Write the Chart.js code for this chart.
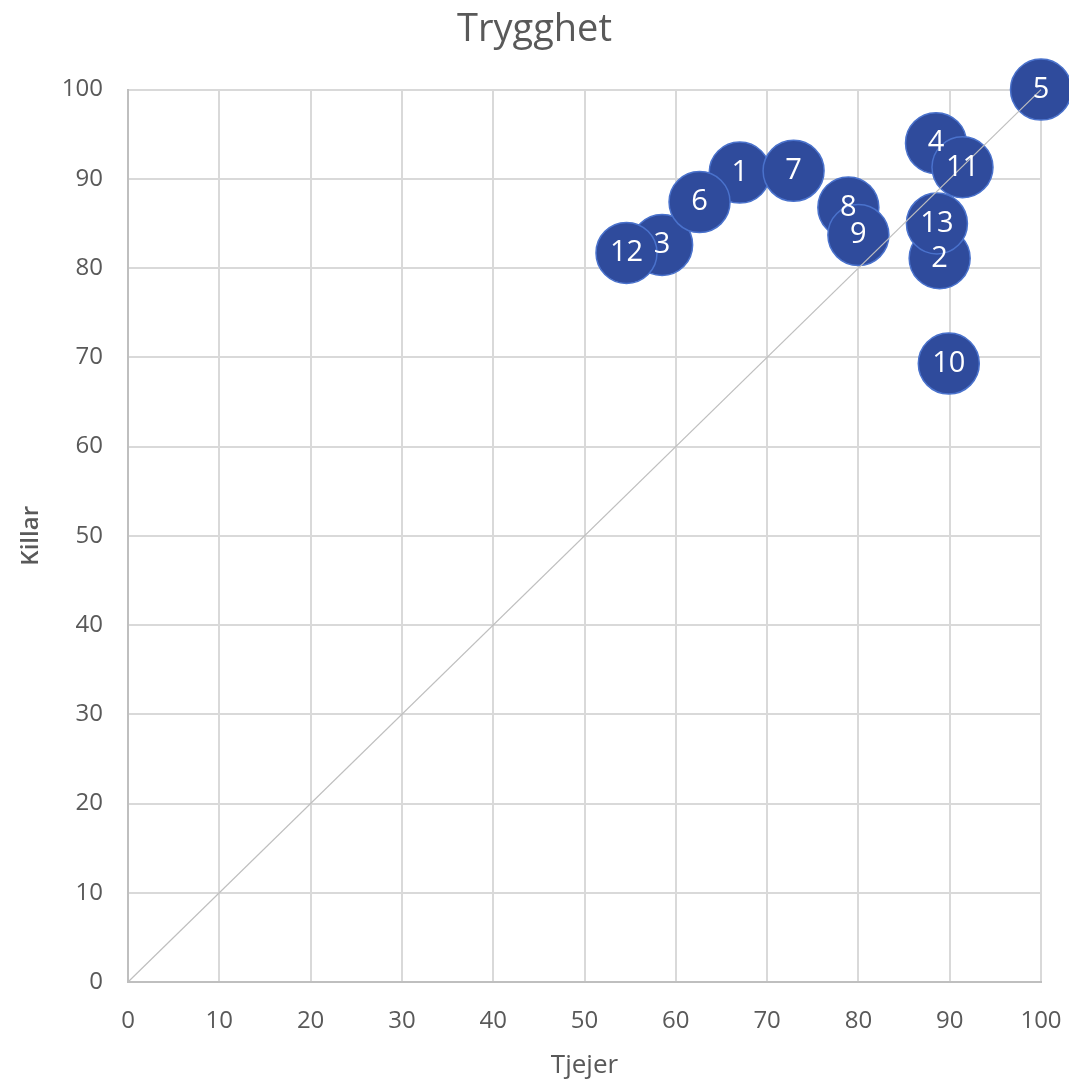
<!DOCTYPE html>
<html>
<head>
<meta charset="utf-8">
<script src="https://cdn.jsdelivr.net/npm/chart.js@4"></script>
<style>
  body { margin: 0; background: #fff; }
  #wrap { width: 1069px; height: 1085px; }
</style>
</head>
<body>
<div id="wrap"><canvas id="trygghet" width="1069" height="1085"></canvas></div>
<script>
// skolor 1-13, andel trygga (%)
var labels = ['1', '2', '3', '4', '5', '6', '7', '8', '9', '10', '11', '12', '13'];
var tjejer = [67.0, 88.9, 58.5, 88.5, 100, 62.6, 72.9, 78.9, 80.0, 89.9, 91.4, 54.6, 88.6];
var killar = [90.7, 81.1, 82.6, 94.0, 100, 87.4, 90.9, 86.8, 83.7, 69.3, 91.3, 81.7, 85.0];
var diagX = [0, 100];
var diagY = [0, 100];

var points = [];
for (var i = 0; i < labels.length; i++) {
  points.push({ x: tjejer[i], y: killar[i], r: 30.5 });
}
var diag = [{ x: diagX[0], y: diagY[0] }, { x: diagX[1], y: diagY[1] }];

var grey = '#595959';

// siffrorna i bubblorna
var bubbleLabels = {
  id: 'bubbleLabels',
  afterDatasetsDraw: function (chart) {
    var ctx = chart.ctx;
    var meta = chart.getDatasetMeta(0);
    ctx.save();
    ctx.fillStyle = '#ffffff';
    ctx.font = '29px "Open Sans"';
    ctx.textAlign = 'center';
    ctx.textBaseline = 'middle';
    meta.data.forEach(function (el, i) {
      ctx.fillText(labels[i], el.x, el.y);
    });
    ctx.restore();
  }
};

var ctx = document.getElementById('trygghet');
var config = {
  type: 'bubble',
  data: {
    datasets: [{
      type: 'bubble',
      data: points,
      backgroundColor: '#2F4B9C',
      borderColor: '#4A72CC',
      borderWidth: 1.5,
      order: 2,
      clip: false
    }, {
      type: 'line',
      data: diag,
      borderColor: '#BFBFBF',
      borderWidth: 1.2,
      pointRadius: 0,
      fill: false,
      order: 1,
      clip: false
    }]
  },
  options: {
    responsive: false,
    animation: false,
    layout: {
      autoPadding: false,
      padding: 0
    },
    plugins: {
      legend: { display: false },
      tooltip: { enabled: false },
      title: {
        display: true,
        text: 'Trygghet',
        color: grey,
        font: { family: '"Open Sans"', size: 38, weight: 'normal' },
        padding: { top: 7, bottom: 37 }
      }
    },
    scales: {
      x: {
        type: 'linear',
        min: 0,
        max: 100,
        ticks: { stepSize: 10, color: grey, padding: 25, font: { family: '"Open Sans"', size: 24 } },
        grid: { color: '#D9D9D9', lineWidth: 2, drawTicks: false },
        border: { color: '#BFBFBF', width: 2 },
        title: {
          display: true,
          text: 'Tjejer',
          color: grey,
          font: { family: '"Open Sans"', size: 26 },
          padding: { top: 0, bottom: 4 }
        },
        afterFit: function (s) {
          s.height = 103;
          s.paddingLeft = 0;
          s.paddingRight = 28;
        }
      },
      y: {
        type: 'linear',
        min: 0,
        max: 100,
        ticks: { stepSize: 10, color: grey, padding: 25, font: { family: '"Open Sans"', size: 24 } },
        grid: { color: '#D9D9D9', lineWidth: 2, drawTicks: false },
        border: { color: '#BFBFBF', width: 2 },
        title: {
          display: true,
          text: 'Killar',
          color: grey,
          font: { family: '"Open Sans"', size: 24, weight: '600' },
          padding: { top: 17, bottom: 0 }
        },
        afterFit: function (s) {
          s.width = 128;
          s.paddingTop = 0;
          s.paddingBottom = 0;
        }
      }
    }
  },
  plugins: [bubbleLabels]
};
window.myChart = new Chart(ctx, config);
</script>
</body>
</html>
